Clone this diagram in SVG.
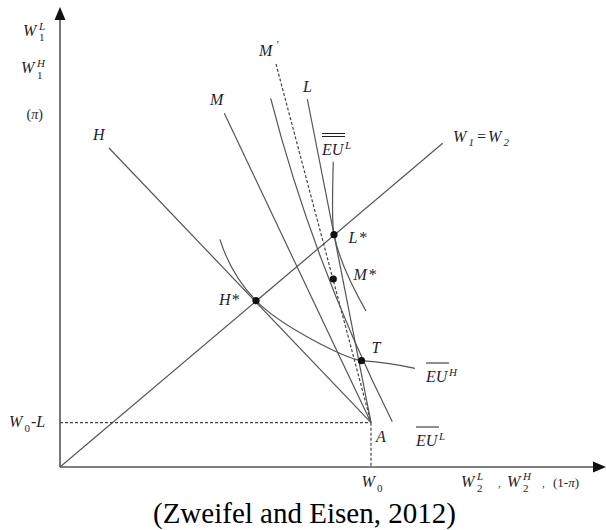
<svg xmlns="http://www.w3.org/2000/svg" width="606" height="530" viewBox="0 0 606 530">
<style>
.ln{fill:none;stroke:#555;stroke-width:1.2}
.ax{fill:none;stroke:#555;stroke-width:1.6}
.ds{fill:none;stroke:#444;stroke-width:1.2;stroke-dasharray:3 2}
.lab{font-style:italic;font-size:16px}
.sm{font-style:italic;font-size:11px}
.rm{font-size:11px}
.ol{stroke:#1e1e30;stroke-width:1}
.dot{fill:#111}
</style>
<rect width="606" height="530" fill="#fff"/>
<g id="axes">
<line class="ax" x1="60" y1="467" x2="60" y2="18"/>
<polygon points="60,7 54.5,20 65.5,20" fill="#111"/>
<line class="ax" x1="60" y1="467" x2="595" y2="467"/>
<polygon points="606,467 593,461.5 593,472.5" fill="#111"/>
</g>
<g id="connectors">
<line class="ln" x1="60" y1="467" x2="442.7" y2="143.3"/>
<line class="ds" x1="60" y1="422.7" x2="371" y2="422.7"/>
<line class="ds" x1="371" y1="422.7" x2="371" y2="467"/>
<line class="ln" x1="109" y1="148" x2="371" y2="422.7"/>
<line class="ln" x1="224.3" y1="113.3" x2="371" y2="422.7"/>
<line class="ds" x1="276" y1="64" x2="371" y2="422.7"/>
<line class="ln" x1="307.3" y1="99" x2="371" y2="422.7"/>
<path class="ln" d="M270.7,98.3 Q312.8,262.6 392.3,421.7"/>
<path class="ln" d="M220,239.3 Q230.4,273.9 256,300.7 C 281,326.7 345,358 361.5,360.7 Q390,363 415,368.3"/>
<path class="ln" d="M333.3,161.7 Q331.5,222 334,234.7 Q340.1,265.5 366,311"/>
</g>
<g id="points">
<circle class="dot" cx="256" cy="300.7" r="3.6"/>
<circle class="dot" cx="334" cy="234.7" r="3.6"/>
<circle class="dot" cx="333.3" cy="279" r="3.6"/>
<circle class="dot" cx="361.5" cy="360.7" r="3.6"/>
</g>
<g id="labels" font-family="Liberation Serif, DejaVu Serif, serif" fill="#1e1e30">
<text class="lab" x="23" y="36">W</text><text class="sm" x="39" y="29.5">L</text><text class="rm" x="39" y="41">1</text>
<text class="lab" x="21" y="73">W</text><text class="sm" x="37" y="66.5">H</text><text class="rm" x="37" y="78.5">1</text>
<text x="26.5" y="119" font-size="14">(<tspan font-style="italic">π</tspan>)</text>
<text class="lab" x="93" y="140">H</text>
<text class="lab" x="210" y="105">M</text>
<text class="lab" x="259" y="56">M</text><text class="sm" x="276" y="48">′</text>
<text class="lab" x="303" y="91.5">L</text>
<text class="lab" x="322" y="155">EU</text><text class="sm" x="345" y="149">L</text>
<line class="ol" x1="322" y1="133.5" x2="345" y2="133.5"/><line class="ol" x1="322" y1="136.5" x2="345" y2="136.5"/>
<text class="lab" x="453" y="141.5">W</text><text class="sm" x="468.5" y="146">1</text><text class="lab" x="476" y="141.5">=</text><text class="lab" x="488" y="141.5">W</text><text class="sm" x="503.5" y="146">2</text>
<text class="lab" x="348.5" y="243">L</text><text class="lab" x="358.5" y="243">*</text>
<text class="lab" x="353.5" y="280">M</text><text class="lab" x="368" y="280">*</text>
<text class="lab" x="219" y="305">H</text><text class="lab" x="231" y="305">*</text>
<text class="lab" x="371.5" y="353">T</text>
<text class="lab" x="426" y="382">EU</text><text class="sm" x="449" y="376">H</text>
<line class="ol" x1="426" y1="363" x2="449" y2="363"/>
<text class="lab" x="416" y="446">EU</text><text class="sm" x="439" y="440">L</text>
<line class="ol" x1="416" y1="427" x2="439" y2="427"/>
<text class="lab" x="376" y="441.5">A</text>
<text class="lab" x="9" y="427">W</text><text class="rm" x="24.5" y="432">0</text><text class="lab" x="31" y="427">-L</text>
<text class="lab" x="361.5" y="487">W</text><text class="rm" x="377" y="492">0</text>
<text class="lab" x="461" y="487">W</text><text class="sm" x="477" y="480">L</text><text class="rm" x="477" y="491.5">2</text>
<text class="rm" x="498" y="487" font-size="12">,</text>
<text class="lab" x="507" y="487">W</text><text class="sm" x="523" y="480">H</text><text class="rm" x="523" y="491.5">2</text>
<text class="rm" x="542" y="487" font-size="12">,</text>
<text x="553" y="487" font-size="13">(1-<tspan font-style="italic">π</tspan>)</text>
<text x="153" y="523" font-size="29" fill="#000">(Zweifel and Eisen, 2012)</text>
</g>
</svg>
